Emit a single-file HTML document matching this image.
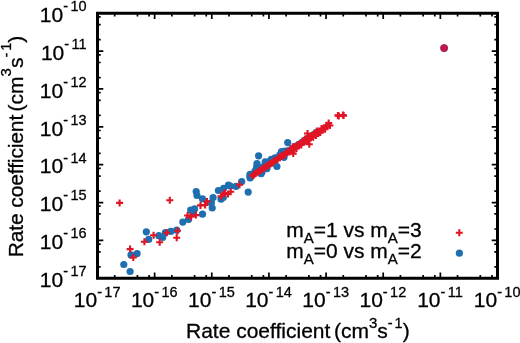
<!DOCTYPE html>
<html><head><meta charset="utf-8"><style>
html,body{margin:0;padding:0;background:#fff;}
svg{display:block;filter:blur(0.35px);}
text{font-family:"Liberation Sans", sans-serif;fill:#000;stroke:#000;stroke-width:0.3px;}
</style></head><body>
<svg width="520" height="343" viewBox="0 0 520 343">
<path d="M97.50 278.25V272.45M97.50 13.25V19.05M97.50 278.25H103.30M497.50 278.25H491.70M114.70 278.25V275.05M114.70 13.25V16.45M97.50 266.85H100.70M497.50 266.85H494.30M137.44 278.25V275.05M137.44 13.25V16.45M97.50 251.79H100.70M497.50 251.79H494.30M149.11 278.25V275.05M149.11 13.25V16.45M97.50 244.06H100.70M497.50 244.06H494.30M154.64 278.25V272.45M154.64 13.25V19.05M97.50 240.39H103.30M497.50 240.39H491.70M171.84 278.25V275.05M171.84 13.25V16.45M97.50 229.00H100.70M497.50 229.00H494.30M194.58 278.25V275.05M194.58 13.25V16.45M97.50 213.93H100.70M497.50 213.93H494.30M206.25 278.25V275.05M206.25 13.25V16.45M97.50 206.20H100.70M497.50 206.20H494.30M211.79 278.25V272.45M211.79 13.25V19.05M97.50 202.54H103.30M497.50 202.54H491.70M228.99 278.25V275.05M228.99 13.25V16.45M97.50 191.14H100.70M497.50 191.14H494.30M251.73 278.25V275.05M251.73 13.25V16.45M97.50 176.07H100.70M497.50 176.07H494.30M263.39 278.25V275.05M263.39 13.25V16.45M97.50 168.35H100.70M497.50 168.35H494.30M268.93 278.25V272.45M268.93 13.25V19.05M97.50 164.68H103.30M497.50 164.68H491.70M286.13 278.25V275.05M286.13 13.25V16.45M97.50 153.28H100.70M497.50 153.28H494.30M308.87 278.25V275.05M308.87 13.25V16.45M97.50 138.22H100.70M497.50 138.22H494.30M320.53 278.25V275.05M320.53 13.25V16.45M97.50 130.49H100.70M497.50 130.49H494.30M326.07 278.25V272.45M326.07 13.25V19.05M97.50 126.82H103.30M497.50 126.82H491.70M343.27 278.25V275.05M343.27 13.25V16.45M97.50 115.43H100.70M497.50 115.43H494.30M366.01 278.25V275.05M366.01 13.25V16.45M97.50 100.36H100.70M497.50 100.36H494.30M377.68 278.25V275.05M377.68 13.25V16.45M97.50 92.63H100.70M497.50 92.63H494.30M383.21 278.25V272.45M383.21 13.25V19.05M97.50 88.96H103.30M497.50 88.96H491.70M400.42 278.25V275.05M400.42 13.25V16.45M97.50 77.57H100.70M497.50 77.57H494.30M423.16 278.25V275.05M423.16 13.25V16.45M97.50 62.50H100.70M497.50 62.50H494.30M434.82 278.25V275.05M434.82 13.25V16.45M97.50 54.78H100.70M497.50 54.78H494.30M440.36 278.25V272.45M440.36 13.25V19.05M97.50 51.11H103.30M497.50 51.11H491.70M457.56 278.25V275.05M457.56 13.25V16.45M97.50 39.71H100.70M497.50 39.71H494.30M480.30 278.25V275.05M480.30 13.25V16.45M97.50 24.65H100.70M497.50 24.65H494.30M491.96 278.25V275.05M491.96 13.25V16.45M97.50 16.92H100.70M497.50 16.92H494.30M497.50 278.25V272.45M497.50 13.25V19.05M97.50 13.25H103.30M497.50 13.25H491.70" stroke="#000" stroke-width="1.7" fill="none"/>
<rect x="97.5" y="13.25" width="400.0" height="265.0" fill="none" stroke="#000" stroke-width="3.0"/>
<text x="86.6" y="287.00" text-anchor="end" font-size="21">10<tspan font-size="14.5" dy="-10.8">-</tspan><tspan font-size="14.5" dx="2.4">17</tspan></text>
<text x="97.14" y="307.3" text-anchor="middle" font-size="21">10<tspan font-size="14.5" dy="-10.8">-</tspan><tspan font-size="14.5" dx="2.4">17</tspan></text>
<text x="86.6" y="249.14" text-anchor="end" font-size="21">10<tspan font-size="14.5" dy="-10.8">-</tspan><tspan font-size="14.5" dx="2.4">16</tspan></text>
<text x="154.28" y="307.3" text-anchor="middle" font-size="21">10<tspan font-size="14.5" dy="-10.8">-</tspan><tspan font-size="14.5" dx="2.4">16</tspan></text>
<text x="86.6" y="211.29" text-anchor="end" font-size="21">10<tspan font-size="14.5" dy="-10.8">-</tspan><tspan font-size="14.5" dx="2.4">15</tspan></text>
<text x="211.43" y="307.3" text-anchor="middle" font-size="21">10<tspan font-size="14.5" dy="-10.8">-</tspan><tspan font-size="14.5" dx="2.4">15</tspan></text>
<text x="86.6" y="173.43" text-anchor="end" font-size="21">10<tspan font-size="14.5" dy="-10.8">-</tspan><tspan font-size="14.5" dx="2.4">14</tspan></text>
<text x="268.57" y="307.3" text-anchor="middle" font-size="21">10<tspan font-size="14.5" dy="-10.8">-</tspan><tspan font-size="14.5" dx="2.4">14</tspan></text>
<text x="86.6" y="135.57" text-anchor="end" font-size="21">10<tspan font-size="14.5" dy="-10.8">-</tspan><tspan font-size="14.5" dx="2.4">13</tspan></text>
<text x="325.71" y="307.3" text-anchor="middle" font-size="21">10<tspan font-size="14.5" dy="-10.8">-</tspan><tspan font-size="14.5" dx="2.4">13</tspan></text>
<text x="86.6" y="97.71" text-anchor="end" font-size="21">10<tspan font-size="14.5" dy="-10.8">-</tspan><tspan font-size="14.5" dx="2.4">12</tspan></text>
<text x="382.85" y="307.3" text-anchor="middle" font-size="21">10<tspan font-size="14.5" dy="-10.8">-</tspan><tspan font-size="14.5" dx="2.4">12</tspan></text>
<text x="86.6" y="59.86" text-anchor="end" font-size="21">10<tspan font-size="14.5" dy="-10.8">-</tspan><tspan font-size="14.5" dx="2.4">11</tspan></text>
<text x="440.00" y="307.3" text-anchor="middle" font-size="21">10<tspan font-size="14.5" dy="-10.8">-</tspan><tspan font-size="14.5" dx="2.4">11</tspan></text>
<text x="86.6" y="22.00" text-anchor="end" font-size="21">10<tspan font-size="14.5" dy="-10.8">-</tspan><tspan font-size="14.5" dx="2.4">10</tspan></text>
<text x="497.14" y="307.3" text-anchor="middle" font-size="21">10<tspan font-size="14.5" dy="-10.8">-</tspan><tspan font-size="14.5" dx="2.4">10</tspan></text>
<text x="186" y="337.8" font-size="21">Rate coefficient <tspan dx="-2.3">(cm</tspan><tspan font-size="15" dy="-9.5">3</tspan><tspan dy="9.5">s</tspan><tspan font-size="14.5" dy="-9.5">-</tspan><tspan font-size="14.5" dx="2">1</tspan><tspan dy="9.5">)</tspan></text>
<text transform="translate(23.0,257.3) rotate(-90)" x="0" y="0" font-size="21"><tspan letter-spacing="-0.12">Rate coefficient </tspan><tspan dx="-2.3">(cm</tspan><tspan font-size="15" dy="-12">3</tspan><tspan dy="12">s</tspan><tspan font-size="14.5" dy="-12">-</tspan><tspan font-size="14.5" dx="2">1</tspan><tspan dy="12">)</tspan></text>
<text x="286.2" y="237.1" font-size="21">m<tspan font-size="15" dy="6.3">A</tspan><tspan dy="-6.3">=1 vs m</tspan><tspan font-size="15" dy="6.3">A</tspan><tspan dy="-6.3">=3</tspan></text>
<text x="286.2" y="258" font-size="21">m<tspan font-size="15" dy="6.3">A</tspan><tspan dy="-6.3">=0 vs m</tspan><tspan font-size="15" dy="6.3">A</tspan><tspan dy="-6.3">=2</tspan></text>
<circle cx="459.4" cy="253.2" r="3.6" fill="#1e6fb0"/>
<circle cx="123.8" cy="264.5" r="3.6" fill="#1e6fb0"/>
<circle cx="130.1" cy="271.5" r="3.6" fill="#1e6fb0"/>
<circle cx="137.1" cy="253.6" r="3.6" fill="#1e6fb0"/>
<circle cx="131" cy="254.9" r="3.6" fill="#1e6fb0"/>
<circle cx="146.3" cy="231.8" r="3.6" fill="#1e6fb0"/>
<circle cx="148.7" cy="239.4" r="3.6" fill="#1e6fb0"/>
<circle cx="158.8" cy="235.7" r="3.6" fill="#1e6fb0"/>
<circle cx="162.7" cy="237.5" r="3.6" fill="#1e6fb0"/>
<circle cx="165.4" cy="232.7" r="3.6" fill="#1e6fb0"/>
<circle cx="170.9" cy="231.3" r="3.6" fill="#1e6fb0"/>
<circle cx="176.7" cy="230.2" r="3.6" fill="#1e6fb0"/>
<circle cx="182.8" cy="222.1" r="3.6" fill="#1e6fb0"/>
<circle cx="188.5" cy="219.4" r="3.6" fill="#1e6fb0"/>
<circle cx="190.7" cy="210.2" r="3.6" fill="#1e6fb0"/>
<circle cx="194.6" cy="208.9" r="3.6" fill="#1e6fb0"/>
<circle cx="192.9" cy="213.3" r="3.6" fill="#1e6fb0"/>
<circle cx="202.5" cy="214.2" r="3.6" fill="#1e6fb0"/>
<circle cx="202.5" cy="198.9" r="3.6" fill="#1e6fb0"/>
<circle cx="212.2" cy="208" r="3.6" fill="#1e6fb0"/>
<circle cx="211.4" cy="202.7" r="3.6" fill="#1e6fb0"/>
<circle cx="213.1" cy="197.5" r="3.6" fill="#1e6fb0"/>
<circle cx="218.4" cy="190.5" r="3.6" fill="#1e6fb0"/>
<circle cx="221" cy="199.2" r="3.6" fill="#1e6fb0"/>
<circle cx="223.6" cy="188.3" r="3.6" fill="#1e6fb0"/>
<circle cx="228.4" cy="185.2" r="3.6" fill="#1e6fb0"/>
<circle cx="196.2" cy="191.5" r="3.6" fill="#1e6fb0"/>
<circle cx="197" cy="195.5" r="3.6" fill="#1e6fb0"/>
<circle cx="248.2" cy="192.1" r="3.6" fill="#1e6fb0"/>
<circle cx="241.7" cy="181.6" r="3.6" fill="#1e6fb0"/>
<circle cx="236" cy="186.4" r="3.6" fill="#1e6fb0"/>
<circle cx="230.3" cy="186" r="3.6" fill="#1e6fb0"/>
<circle cx="223.3" cy="197.4" r="3.6" fill="#1e6fb0"/>
<circle cx="250" cy="176.4" r="3.6" fill="#1e6fb0"/>
<circle cx="250.1" cy="177.9" r="3.6" fill="#1e6fb0"/>
<circle cx="256.6" cy="167" r="3.6" fill="#1e6fb0"/>
<circle cx="258.6" cy="155.8" r="3.6" fill="#1e6fb0"/>
<circle cx="287.7" cy="142.6" r="3.6" fill="#1e6fb0"/>
<circle cx="281.5" cy="151.7" r="3.6" fill="#1e6fb0"/>
<circle cx="276.9" cy="166.5" r="3.6" fill="#1e6fb0"/>
<circle cx="271.3" cy="159.4" r="3.6" fill="#1e6fb0"/>
<circle cx="265.2" cy="161.9" r="3.6" fill="#1e6fb0"/>
<circle cx="257" cy="163.5" r="3.6" fill="#1e6fb0"/>
<circle cx="261.1" cy="173.7" r="3.6" fill="#1e6fb0"/>
<circle cx="270.4" cy="163.5" r="3.6" fill="#1e6fb0"/>
<circle cx="250.0" cy="174.4" r="3.6" fill="#1e6fb0"/>
<circle cx="252.5" cy="174.4" r="3.6" fill="#1e6fb0"/>
<circle cx="255.0" cy="171.1" r="3.6" fill="#1e6fb0"/>
<circle cx="257.5" cy="171.0" r="3.6" fill="#1e6fb0"/>
<circle cx="260.0" cy="167.8" r="3.6" fill="#1e6fb0"/>
<circle cx="262.5" cy="167.7" r="3.6" fill="#1e6fb0"/>
<circle cx="265.0" cy="164.5" r="3.6" fill="#1e6fb0"/>
<circle cx="267.5" cy="164.4" r="3.6" fill="#1e6fb0"/>
<circle cx="270.0" cy="161.2" r="3.6" fill="#1e6fb0"/>
<circle cx="272.5" cy="161.1" r="3.6" fill="#1e6fb0"/>
<circle cx="275.0" cy="157.9" r="3.6" fill="#1e6fb0"/>
<circle cx="277.5" cy="157.8" r="3.6" fill="#1e6fb0"/>
<circle cx="280.0" cy="154.5" r="3.6" fill="#1e6fb0"/>
<circle cx="282.5" cy="154.5" r="3.6" fill="#1e6fb0"/>
<circle cx="285.0" cy="151.2" r="3.6" fill="#1e6fb0"/>
<circle cx="287.5" cy="151.2" r="3.6" fill="#1e6fb0"/>
<circle cx="290" cy="150.2" r="3.6" fill="#1e6fb0"/>
<circle cx="293" cy="148.2" r="3.6" fill="#1e6fb0"/>
<circle cx="296" cy="146.2" r="3.6" fill="#1e6fb0"/>
<circle cx="299" cy="144.3" r="3.6" fill="#1e6fb0"/>
<circle cx="302" cy="142.3" r="3.6" fill="#1e6fb0"/>
<circle cx="305" cy="140.3" r="3.6" fill="#1e6fb0"/>
<circle cx="308" cy="138.3" r="3.6" fill="#1e6fb0"/>
<circle cx="311" cy="136.3" r="3.6" fill="#1e6fb0"/>
<circle cx="314" cy="134.3" r="3.6" fill="#1e6fb0"/>
<circle cx="317" cy="132.3" r="3.6" fill="#1e6fb0"/>
<circle cx="262" cy="171.9" r="3.6" fill="#1e6fb0"/>
<circle cx="267" cy="168.6" r="3.6" fill="#1e6fb0"/>
<circle cx="284" cy="157.3" r="3.6" fill="#1e6fb0"/>
<path d="M455.8 232.7H462.8M459.3 229.2V236.2M126.6 249.1H133.6M130.1 245.6V252.6M129.8 257.5H136.8M133.3 254.0V261.0M140.9 241.7H147.9M144.4 238.2V245.2M150.1 235.3H157.1M153.6 231.8V238.8M163.2 232.7H170.2M166.7 229.2V236.2M156.2 242.3H163.2M159.7 238.8V245.8M173.2 237.7H180.2M176.7 234.2V241.2M174.0 230.7H181.0M177.5 227.2V234.2M166.3 200.3H173.3M169.8 196.8V203.8M116.1 202.9H123.1M119.6 199.4V206.4M184.1 215.5H191.1M187.6 212.0V219.0M187.6 216.8H194.6M191.1 213.3V220.3M192.4 215.1H199.4M195.9 211.6V218.6M197.0 205.4H204.0M200.5 201.9V208.9M201.6 205H208.6M205.1 201.5V208.5M203.5 201.4H210.5M207 197.9V204.9M217.5 196.2H224.5M221 192.7V199.7M221.4 193.1H228.4M224.9 189.6V196.6M224.5 194H231.5M228 190.5V197.5M236.0 184.7H243.0M239.5 181.2V188.2M227.2 191.7H234.2M230.7 188.2V195.2M220.2 193.9H227.2M223.7 190.4V197.4M249.6 175.7H256.6M253.1 172.2V179.2M334.4 115.4H341.4M337.9 111.9V118.9M340.1 115.6H347.1M343.6 112.1V119.1M335.3 116.0H342.3M338.8 112.5V119.5M339.4 115.0H346.4M342.9 111.5V118.5M249.0 175.6H256.0M252.5 172.1V179.1M250.2 175.1H257.2M253.7 171.6V178.6M251.4 173.7H258.4M254.9 170.2V177.2M252.6 173.3H259.6M256.1 169.8V176.8M253.8 172.0H260.8M257.3 168.5V175.5M254.9 171.9H261.9M258.4 168.4V175.4M256.1 170.7H263.1M259.6 167.2V174.2M257.3 170.4H264.3M260.8 166.9V173.9M258.5 169.0H265.5M262.0 165.5V172.5M259.7 168.5H266.7M263.2 165.0V172.0M260.9 167.7H267.9M264.4 164.2V171.2M262.1 167.3H269.1M265.6 163.8V170.8M263.3 165.8H270.3M266.8 162.3V169.3M264.5 165.5H271.5M268.0 162.0V169.0M265.7 164.1H272.7M269.2 160.6V167.6M266.9 164.0H273.9M270.4 160.5V167.5M268.0 162.8H275.0M271.5 159.3V166.3M269.2 163.1H276.2M272.7 159.6V166.6M270.4 160.8H277.4M273.9 157.3V164.3M271.6 160.7H278.6M275.1 157.2V164.2M272.8 159.8H279.8M276.3 156.3V163.3M274.0 159.8H281.0M277.5 156.3V163.3M275.2 157.5H282.2M278.7 154.0V161.0M276.4 157.7H283.4M279.9 154.2V161.2M277.6 155.7H284.6M281.1 152.2V159.2M278.7 156.4H285.7M282.2 152.9V159.9M279.9 154.8H286.9M283.4 151.3V158.3M281.1 155.2H288.1M284.6 151.7V158.7M282.3 152.9H289.3M285.8 149.4V156.4M283.5 152.8H290.5M287.0 149.3V156.3M284.7 151.9H291.7M288.2 148.4V155.4M285.9 151.9H292.9M289.4 148.4V155.4M287.1 148.8H294.1M290.6 145.3V152.3M288.3 150.2H295.3M291.8 146.7V153.7M289.5 146.8H296.5M293.0 143.3V150.3M290.6 149.2H297.6M294.1 145.7V152.7M291.8 146.7H298.8M295.3 143.2V150.2M293.0 148.4H300.0M296.5 144.9V151.9M294.2 144.4H301.2M297.7 140.9V147.9M295.4 145.1H302.4M298.9 141.6V148.6M296.6 144.0H303.6M300.1 140.5V147.5M297.8 145.0H304.8M301.3 141.5V148.5M299.0 141.0H306.0M302.5 137.5V144.5M300.2 142.4H307.2M303.7 138.9V145.9M301.4 138.9H308.4M304.9 135.4V142.4M302.6 141.3H309.6M306.1 137.8V144.8M303.7 138.8H310.7M307.2 135.3V142.3M304.9 140.5H311.9M308.4 137.0V144.0M306.1 136.5H313.1M309.6 133.0V140.0M307.3 137.2H314.3M310.8 133.7V140.7M308.5 136.1H315.5M312.0 132.6V139.6M309.7 137.2H316.7M313.2 133.7V140.7M310.9 133.1H317.9M314.4 129.6V136.6M312.1 134.5H319.1M315.6 131.0V138.0M313.3 131.0H320.3M316.8 127.5V134.5M314.4 133.4H321.4M317.9 129.9V136.9M315.6 130.9H322.6M319.1 127.4V134.4M316.8 132.6H323.8M320.3 129.1V136.1M318.0 128.6H325.0M321.5 125.1V132.1M319.2 129.3H326.2M322.7 125.8V132.8M320.4 128.3H327.4M323.9 124.8V131.8M321.6 129.3H328.6M325.1 125.8V132.8M322.8 125.2H329.8M326.3 121.7V128.7M324.0 126.6H331.0M327.5 123.1V130.1M325.2 123.1H332.2M328.7 119.6V126.6M326.4 125.5H333.4M329.9 122.0V129.0M305.8 144.2H312.8M309.3 140.7V147.7M304.0 133.5H311.0M307.5 130.0V137.0M312.5 135.5H319.5M316 132.0V139.0M289.7 153.6H296.7M293.2 150.1V157.1" stroke="#e01424" stroke-width="2.1" fill="none"/>
<circle cx="444.1" cy="48.1" r="3.6" fill="#c4184a" stroke="#901850" stroke-width="0.8"/>
</svg>
</body></html>
